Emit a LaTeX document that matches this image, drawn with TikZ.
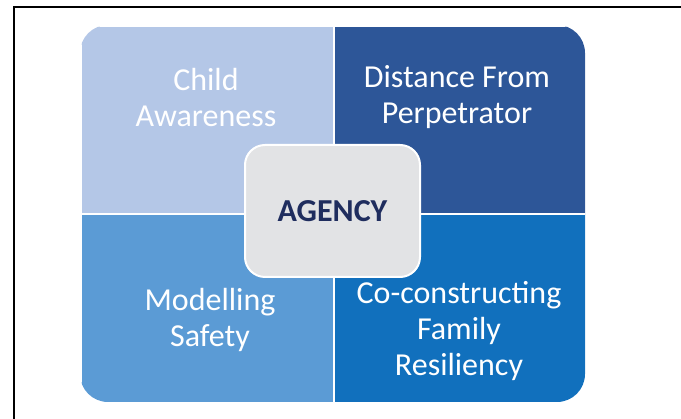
\documentclass[tikz,border=0pt]{standalone}
\usepackage{fontspec}
\setmainfont{Carlito}
\usetikzlibrary{positioning,calc}
\definecolor{paleblue}{HTML}{B4C7E7}
\definecolor{deepblue}{HTML}{2D5698}
\definecolor{midblue}{HTML}{5B9BD5}
\definecolor{brightblue}{HTML}{1170BD}
\definecolor{agencyfill}{HTML}{E2E3E5}
\definecolor{agencytext}{HTML}{1F2D5E}
\tikzset{
  quad/.style={rectangle, draw=white, line width=2pt, inner sep=0pt, anchor=north west},
  quadtext/.style={text=white, align=center, font=\fontsize{32}{36}\selectfont},
}

\begin{document}
\begin{tikzpicture}[x=1pt, y=-1pt]
\useasboundingbox (0,0) rectangle (681,419);
% frame
\draw[line width=2.5pt] (14,419) -- (14,7) -- (681,7);
% four quadrants, clipped to the rounded outline
\begin{scope}
  \clip[rounded corners=28pt] (80,25) rectangle (585,402);
  \node[quad, fill=paleblue, minimum width=253pt, minimum height=188pt] (childq) at (80,25) {};
  \node[quad, fill=deepblue, minimum width=252pt, minimum height=188pt] (distq) at (333,25) {};
  \node[quad, fill=midblue, minimum width=253pt, minimum height=189pt] (modq) at (80,213) {};
  \node[quad, fill=brightblue, minimum width=252pt, minimum height=189pt] (coq) at (333,213) {};
\end{scope}
\node[quadtext] (child) at (206,98) {Child\\Awareness};
\node[quadtext] (dist) at (457,97) {Distance From\\Perpetrator};
\node[quadtext] (model) at (210,320) {Modelling\\Safety};
\node[quadtext] (cocon) at (459,331) {Co-constructing\\Family\\Resiliency};
% centre
\node[rectangle, rounded corners=20pt, draw=white, line width=2pt, fill=agencyfill,
      minimum width=175pt, minimum height=132pt, text=agencytext,
      font=\fontsize{32}{36}\selectfont\bfseries] (agency) at (332.5,211) {AGENCY};
\end{tikzpicture}
\end{document}
